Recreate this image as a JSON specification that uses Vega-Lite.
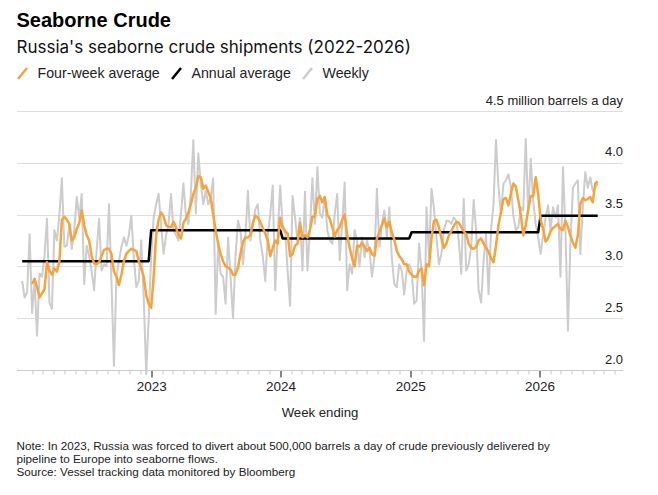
{
  "$schema": "https://vega.github.io/schema/vega-lite/v6.json",
  "background": "white",
  "padding": {"left": 10.5, "right": 36, "top": 11, "bottom": 8},
  "config": {
    "font": "Liberation Sans",
    "view": {"stroke": null},
    "concat": {"spacing": 0}
  },
  "title": {
    "text": [
      "Note: In 2023, Russia was forced to divert about 500,000 barrels a day of crude previously delivered by",
      "pipeline to Europe into seaborne flows.",
      "Source: Vessel tracking data monitored by Bloomberg"
    ],
    "orient": "bottom",
    "anchor": "start",
    "frame": "group",
    "font": "Liberation Sans",
    "fontSize": 11.7,
    "fontWeight": "normal",
    "color": "#222222",
    "lineHeight": 13.3,
    "offset": 22
  },
  "datasets": {
    "weekly": [
      {"d":"2022-01-02","w":2.86},{"d":"2022-01-09","w":2.70},{"d":"2022-01-16","w":2.75},{"d":"2022-01-23","w":3.31},
      {"d":"2022-01-30","w":2.55,"f":2.83},{"d":"2022-02-06","w":2.86,"f":2.88},{"d":"2022-02-13","w":2.33,"f":2.80},{"d":"2022-02-20","w":2.93,"f":2.70},
      {"d":"2022-02-27","w":2.90,"f":2.74},{"d":"2022-03-06","w":3.10,"f":2.78},{"d":"2022-03-13","w":3.46,"f":3.04},{"d":"2022-03-20","w":2.65,"f":2.96},
      {"d":"2022-03-27","w":2.59,"f":2.92},{"d":"2022-04-03","w":3.35,"f":2.98},{"d":"2022-04-10","w":3.25,"f":2.95},{"d":"2022-04-17","w":3.50,"f":3.05},
      {"d":"2022-04-24","w":3.85,"f":3.45},{"d":"2022-05-01","w":3.19,"f":3.48},{"d":"2022-05-08","w":3.20,"f":3.45},{"d":"2022-05-15","w":3.40,"f":3.41},
      {"d":"2022-05-22","w":3.17,"f":3.25},{"d":"2022-05-29","w":3.35,"f":3.28},{"d":"2022-06-05","w":3.67,"f":3.36},{"d":"2022-06-12","w":3.47,"f":3.42},
      {"d":"2022-06-19","w":3.70,"f":3.54},{"d":"2022-06-26","w":2.83,"f":3.40},{"d":"2022-07-03","w":3.20,"f":3.30},{"d":"2022-07-10","w":3.10,"f":3.25},
      {"d":"2022-07-17","w":2.95,"f":3.10},{"d":"2022-07-24","w":2.77,"f":3.03},{"d":"2022-07-31","w":3.15,"f":3.02},{"d":"2022-08-07","w":3.46,"f":3.04},
      {"d":"2022-08-14","w":2.96,"f":3.10},{"d":"2022-08-21","w":3.02,"f":3.16},{"d":"2022-08-28","w":3.00,"f":3.17},{"d":"2022-09-04","w":3.60,"f":3.17},
      {"d":"2022-09-11","w":2.85,"f":3.12},{"d":"2022-09-18","w":2.04,"f":2.95},{"d":"2022-09-25","w":2.90,"f":2.90},{"d":"2022-10-02","w":3.05,"f":2.82},
      {"d":"2022-10-09","w":3.19,"f":2.92},{"d":"2022-10-16","w":3.28,"f":3.05},{"d":"2022-10-23","w":3.20,"f":3.12},{"d":"2022-10-30","w":3.30,"f":3.15},
      {"d":"2022-11-06","w":3.49,"f":3.17},{"d":"2022-11-13","w":3.09,"f":3.16},{"d":"2022-11-20","w":2.80,"f":3.15},{"d":"2022-11-27","w":2.86,"f":3.05},
      {"d":"2022-12-04","w":3.25,"f":2.98},{"d":"2022-12-11","w":2.70,"f":2.90},{"d":"2022-12-18","w":1.96,"f":2.72},{"d":"2022-12-25","w":2.50,"f":2.64},
      {"d":"2023-01-01","w":3.10,"f":2.60},{"d":"2023-01-08","w":3.47,"f":2.90},{"d":"2023-01-15","w":3.60,"f":3.30},{"d":"2023-01-22","w":3.70,"f":3.45},
      {"d":"2023-01-29","w":3.40,"f":3.52},{"d":"2023-02-05","w":3.12,"f":3.48},{"d":"2023-02-12","w":3.30,"f":3.40},{"d":"2023-02-19","w":3.41,"f":3.38},
      {"d":"2023-02-26","w":3.70,"f":3.38},{"d":"2023-03-05","w":3.35,"f":3.43},{"d":"2023-03-12","w":3.30,"f":3.38},{"d":"2023-03-19","w":3.25,"f":3.30},
      {"d":"2023-03-26","w":3.50,"f":3.27},{"d":"2023-04-02","w":3.80,"f":3.42},{"d":"2023-04-09","w":3.50,"f":3.46},{"d":"2023-04-16","w":3.41,"f":3.52},
      {"d":"2023-04-23","w":3.70,"f":3.60},{"d":"2023-04-30","w":4.22,"f":3.70},{"d":"2023-05-07","w":3.51,"f":3.76},{"d":"2023-05-14","w":4.09,"f":3.87},
      {"d":"2023-05-21","w":3.80,"f":3.86},{"d":"2023-05-28","w":3.60,"f":3.75},{"d":"2023-06-04","w":3.73,"f":3.78},{"d":"2023-06-11","w":3.60,"f":3.72},
      {"d":"2023-06-18","w":3.67,"f":3.66},{"d":"2023-06-25","w":3.85,"f":3.50},{"d":"2023-07-02","w":2.54,"f":3.35},{"d":"2023-07-09","w":3.20,"f":3.22},
      {"d":"2023-07-16","w":2.93,"f":3.12},{"d":"2023-07-23","w":2.90,"f":3.05},{"d":"2023-07-30","w":2.64,"f":3.00},{"d":"2023-08-06","w":3.28,"f":2.99},
      {"d":"2023-08-13","w":2.90,"f":2.97},{"d":"2023-08-20","w":2.50,"f":2.92},{"d":"2023-08-27","w":3.10,"f":2.92},{"d":"2023-09-03","w":3.44,"f":2.99},
      {"d":"2023-09-10","w":3.35,"f":3.12},{"d":"2023-09-17","w":3.02,"f":3.24},{"d":"2023-09-24","w":3.30,"f":3.28},{"d":"2023-10-01","w":3.73,"f":3.28},
      {"d":"2023-10-08","w":3.25,"f":3.30},{"d":"2023-10-15","w":3.40,"f":3.42},{"d":"2023-10-22","w":3.55,"f":3.49},{"d":"2023-10-29","w":3.60,"f":3.47},
      {"d":"2023-11-05","w":3.25,"f":3.43},{"d":"2023-11-12","w":3.10,"f":3.37},{"d":"2023-11-19","w":2.86,"f":3.32},{"d":"2023-11-26","w":3.30,"f":3.25},
      {"d":"2023-12-03","w":3.50,"f":3.10},{"d":"2023-12-10","w":3.78,"f":3.18},{"d":"2023-12-17","w":2.77,"f":3.25},{"d":"2023-12-24","w":3.30,"f":3.22},
      {"d":"2023-12-31","w":3.78,"f":3.47},
      {"d":"2024-01-07","w":3.40,"f":3.37},{"d":"2024-01-14","w":3.35,"f":3.34},{"d":"2024-01-21","w":2.96,"f":3.32},{"d":"2024-01-28","w":2.62,"f":3.10},
      {"d":"2024-02-04","w":3.68,"f":3.12},{"d":"2024-02-11","w":3.47,"f":3.20},{"d":"2024-02-18","w":3.25,"f":3.22},{"d":"2024-02-25","w":3.47,"f":3.42},
      {"d":"2024-03-03","w":2.96,"f":3.28},{"d":"2024-03-10","w":3.72,"f":3.30},{"d":"2024-03-17","w":2.96,"f":3.28},{"d":"2024-03-24","w":3.35,"f":3.35},
      {"d":"2024-03-31","w":3.85,"f":3.48},{"d":"2024-04-07","w":3.41,"f":3.48},{"d":"2024-04-14","w":3.96,"f":3.65},{"d":"2024-04-21","w":3.51,"f":3.68},
      {"d":"2024-04-28","w":3.47,"f":3.62},{"d":"2024-05-05","w":3.67,"f":3.67},{"d":"2024-05-12","w":3.35,"f":3.50},{"d":"2024-05-19","w":3.25,"f":3.46},
      {"d":"2024-05-26","w":3.22,"f":3.38},{"d":"2024-06-02","w":3.51,"f":3.29},{"d":"2024-06-09","w":3.70,"f":3.35},{"d":"2024-06-16","w":3.06,"f":3.38},
      {"d":"2024-06-23","w":3.41,"f":3.45},{"d":"2024-06-30","w":3.81,"f":3.50},{"d":"2024-07-07","w":2.77,"f":3.30},{"d":"2024-07-14","w":3.02,"f":3.18},
      {"d":"2024-07-21","w":2.93,"f":3.08},{"d":"2024-07-28","w":3.35,"f":3.00},{"d":"2024-08-04","w":3.25,"f":3.20},{"d":"2024-08-11","w":3.00,"f":3.19},
      {"d":"2024-08-18","w":3.28,"f":3.23},{"d":"2024-08-25","w":3.09,"f":3.19},{"d":"2024-09-01","w":3.25,"f":3.15},{"d":"2024-09-08","w":3.15,"f":3.18},
      {"d":"2024-09-15","w":2.90,"f":3.12},{"d":"2024-09-22","w":3.09,"f":3.10},{"d":"2024-09-29","w":3.75,"f":3.27},{"d":"2024-10-06","w":3.19,"f":3.33},
      {"d":"2024-10-13","w":3.41,"f":3.40},{"d":"2024-10-20","w":3.54,"f":3.46},{"d":"2024-10-27","w":3.28,"f":3.38},{"d":"2024-11-03","w":3.57,"f":3.43},
      {"d":"2024-11-10","w":3.09,"f":3.33},{"d":"2024-11-17","w":2.83,"f":3.26},{"d":"2024-11-24","w":2.80,"f":3.15},{"d":"2024-12-01","w":3.02,"f":3.10},
      {"d":"2024-12-08","w":2.96,"f":3.07},{"d":"2024-12-15","w":2.73,"f":3.02},{"d":"2024-12-22","w":2.96,"f":3.02},{"d":"2024-12-29","w":3.02,"f":2.95},
      {"d":"2025-01-05","w":2.96,"f":2.92},{"d":"2025-01-12","w":2.64,"f":2.90},{"d":"2025-01-19","w":2.67,"f":2.90},{"d":"2025-01-26","w":3.22,"f":2.96},
      {"d":"2025-02-02","w":2.96,"f":2.98},{"d":"2025-02-09","w":2.28,"f":2.82},{"d":"2025-02-16","w":3.57,"f":3.02},{"d":"2025-02-23","w":3.09,"f":3.00},
      {"d":"2025-03-02","w":3.75,"f":3.27},{"d":"2025-03-09","w":3.56,"f":3.44},{"d":"2025-03-16","w":3.28,"f":3.45},{"d":"2025-03-23","w":3.02,"f":3.38},
      {"d":"2025-03-30","w":3.12,"f":3.27},{"d":"2025-04-06","w":3.35,"f":3.18},{"d":"2025-04-13","w":3.44,"f":3.22},{"d":"2025-04-20","w":3.44,"f":3.30},
      {"d":"2025-04-27","w":3.41,"f":3.34},{"d":"2025-05-04","w":3.47,"f":3.39},{"d":"2025-05-11","w":3.44,"f":3.43},{"d":"2025-05-18","w":3.25,"f":3.42},
      {"d":"2025-05-25","w":2.93,"f":3.38},{"d":"2025-06-01","w":3.65,"f":3.34},{"d":"2025-06-08","w":2.96,"f":3.31},{"d":"2025-06-15","w":3.02,"f":3.22},
      {"d":"2025-06-22","w":3.19,"f":3.18},{"d":"2025-06-29","w":3.64,"f":3.17},{"d":"2025-07-06","w":3.35,"f":3.19},{"d":"2025-07-13","w":2.77,"f":3.25},
      {"d":"2025-07-20","w":2.65,"f":3.27},{"d":"2025-07-27","w":3.06,"f":3.22},{"d":"2025-08-03","w":3.31,"f":3.18},{"d":"2025-08-10","w":2.73,"f":3.14},
      {"d":"2025-08-17","w":3.35,"f":3.08},{"d":"2025-08-24","w":3.60,"f":3.04},{"d":"2025-08-31","w":4.22,"f":3.20},{"d":"2025-09-07","w":3.77,"f":3.40},
      {"d":"2025-09-14","w":3.51,"f":3.52},{"d":"2025-09-21","w":3.80,"f":3.65},{"d":"2025-09-28","w":3.83,"f":3.66},{"d":"2025-10-05","w":3.89,"f":3.59},
      {"d":"2025-10-12","w":3.77,"f":3.70},{"d":"2025-10-19","w":3.49,"f":3.80},{"d":"2025-10-26","w":3.35,"f":3.77},{"d":"2025-11-02","w":3.38,"f":3.64},
      {"d":"2025-11-09","w":3.57,"f":3.50},{"d":"2025-11-16","w":3.54,"f":3.30},{"d":"2025-11-23","w":4.23,"f":3.40},{"d":"2025-11-30","w":3.51,"f":3.55},
      {"d":"2025-12-07","w":4.04,"f":3.68},{"d":"2025-12-14","w":3.64,"f":3.68},{"d":"2025-12-21","w":3.41,"f":3.86},{"d":"2025-12-28","w":3.28,"f":3.70},
      {"d":"2026-01-04","w":3.12,"f":3.45},{"d":"2026-01-11","w":3.30,"f":3.36},{"d":"2026-01-18","w":3.47,"f":3.24},{"d":"2026-01-25","w":3.59,"f":3.27},
      {"d":"2026-02-01","w":3.35,"f":3.34},{"d":"2026-02-08","w":3.57,"f":3.37},{"d":"2026-02-15","w":3.47,"f":3.39},{"d":"2026-02-22","w":3.59,"f":3.41},
      {"d":"2026-03-01","w":2.90,"f":3.36},{"d":"2026-03-08","w":3.96,"f":3.35},{"d":"2026-03-15","w":3.35,"f":3.44},{"d":"2026-03-22","w":2.38,"f":3.38},
      {"d":"2026-03-29","w":3.22,"f":3.30},{"d":"2026-04-05","w":3.76,"f":3.23},{"d":"2026-04-12","w":3.80,"f":3.18},{"d":"2026-04-19","w":3.83,"f":3.30},
      {"d":"2026-04-26","w":3.12,"f":3.60},{"d":"2026-05-03","w":3.57,"f":3.66},{"d":"2026-05-10","w":3.91,"f":3.64},{"d":"2026-05-17","w":3.76,"f":3.65},
      {"d":"2026-05-24","w":3.86,"f":3.67},{"d":"2026-05-31","w":3.73,"f":3.62},{"d":"2026-06-07","w":3.76,"f":3.80},{"d":"2026-06-14","w":3.80,"f":3.82}
    ],
    "annual": [
      {"d":"2022-01-02","a":3.05},{"d":"2022-12-25","a":3.05},
      {"d":"2023-01-01","a":3.35},{"d":"2023-12-31","a":3.35},
      {"d":"2024-01-07","a":3.27},{"d":"2024-12-29","a":3.27},
      {"d":"2025-01-05","a":3.33},{"d":"2025-12-28","a":3.33},
      {"d":"2026-01-04","a":3.49},{"d":"2026-06-14","a":3.49}
    ]
  },
  "vconcat": [
    {
      "width": 606,
      "height": 259,
      "title": {
        "text": "Seaborne Crude",
        "subtitle": "Russia's seaborne crude shipments (2022-2026)",
        "anchor": "start",
        "frame": "group",
        "font": "Liberation Sans",
        "fontSize": 20,
        "fontWeight": "bold",
        "color": "#000000",
        "subtitleFont": "Inter",
        "subtitleFontSize": 17,
        "subtitleColor": "#111111",
        "subtitlePadding": 9,
        "offset": 38
      },
      "encoding": {
        "x": {
          "field": "d",
          "type": "temporal",
          "scale": {"domain": [{"year": 2021, "month": 12, "date": 17}, {"year": 2026, "month": 8, "date": 23}]},
          "axis": {
            "title": "Week ending",
            "titleFont": "Liberation Sans",
            "titleFontSize": 13.2,
            "titleFontWeight": "normal",
            "titleColor": "#222222",
            "titlePadding": 14,
            "tickCount": {"interval": "month", "step": 1},
            "labelExpr": "month(datum.value) == 0 && year(datum.value) > 2022 ? timeFormat(datum.value, '%Y') : ''",
            "labelFontSize": 13.5,
            "labelColor": "#222222",
            "labelPadding": 2,
            "labelOverlap": false,
            "labelFlush": false,
            "labelBound": false,
            "grid": false,
            "domain": true,
            "domainColor": "#cccccc",
            "domainWidth": 1,
            "tickSize": {"condition": {"test": "month(datum.value) == 0", "value": 7}, "value": 4},
            "tickColor": {"condition": {"test": "month(datum.value) == 0", "value": "#444444"}, "value": "#c8c8c8"},
            "tickOpacity": {"condition": {"test": "year(datum.value) == 2022 && month(datum.value) == 0", "value": 0}, "value": 1},
            "tickWidth": {"condition": {"test": "month(datum.value) == 0", "value": 1.3}, "value": 1}
          }
        }
      },
      "layer": [
        {
          "data": {"name": "weekly"},
          "mark": {"type": "line", "strokeWidth": 2, "strokeJoin": "round", "clip": false},
          "encoding": {
            "y": {
              "field": "w",
              "type": "quantitative",
              "scale": {"domain": [2, 4.5], "nice": false, "zero": false},
              "axis": {
                "orient": "right",
                "title": null,
                "values": [2, 2.5, 3, 3.5, 4, 4.5],
                "labelExpr": "datum.value == 4.5 ? '4.5 million barrels a day' : format(datum.value, '.1f')",
                "labelAlign": "right",
                "labelBaseline": "alphabetic",
                "labelPadding": 0,
                "labelOffset": -7,
                "labelFontSize": 13,
                "labelColor": "#222222",
                "labelFlush": false,
                "labelBound": false,
                "labelOverlap": false,
                "ticks": false,
                "domain": false,
                "grid": true,
                "gridColor": "#dddddd",
                "gridWidth": 1
              }
            },
            "color": {
              "datum": "Weekly",
              "type": "nominal",
              "scale": {
                "domain": ["Four-week average", "Annual average", "Weekly"],
                "range": ["#f5a33a", "#000000", "#cccccc"]
              },
              "legend": {
                "title": null,
                "orient": "none",
                "legendX": -5.5,
                "legendY": -49,
                "direction": "horizontal",
                "symbolType": "M-0.45,0.55L0.45,-0.55",
                "symbolSize": 400,
                "symbolStrokeWidth": 2.5,
                "labelFont": "Liberation Sans",
                "labelFontSize": 14.2,
                "labelColor": "#222222",
                "labelOffset": 3.5,
                "columnPadding": 5,
                "padding": 0
              }
            }
          }
        },
        {
          "data": {"name": "annual"},
          "mark": {"type": "line", "strokeWidth": 2.5, "strokeJoin": "round"},
          "encoding": {
            "y": {"field": "a", "type": "quantitative"},
            "color": {"datum": "Annual average", "type": "nominal"}
          }
        },
        {
          "data": {"name": "weekly"},
          "mark": {"type": "line", "strokeWidth": 2.5, "strokeJoin": "round"},
          "encoding": {
            "y": {"field": "f", "type": "quantitative"},
            "color": {"datum": "Four-week average", "type": "nominal"}
          }
        }
      ]
    }
  ]
}
